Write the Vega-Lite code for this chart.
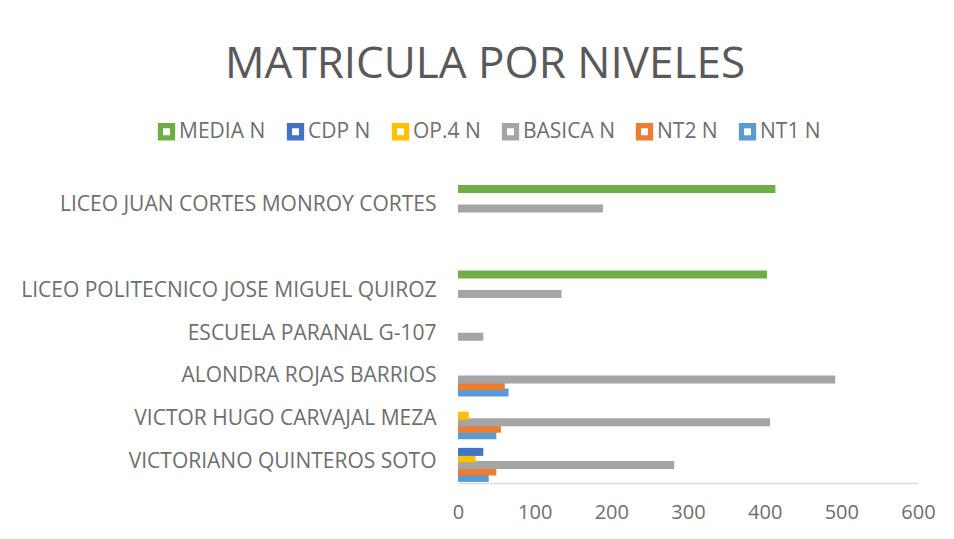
{
  "$schema": "https://vega.github.io/schema/vega-lite/v6.json",
  "autosize": "none",
  "width": 460,
  "height": 299,
  "padding": {"left": 458, "top": 184, "right": 36, "bottom": 56},
  "background": "white",
  "title": {
    "text": "MATRICULA POR NIVELES",
    "anchor": "middle",
    "frame": "group",
    "dx": -203,
    "offset": -1,
    "baseline": "alphabetic",
    "fontSize": 44,
    "font": "Open Sans",
    "fontWeight": "normal",
    "color": "#595959"
  },
  "data": {
    "values": [
      {"escuela": "VICTORIANO QUINTEROS SOTO", "nivel": "NT1 N", "n": 40},
      {"escuela": "VICTORIANO QUINTEROS SOTO", "nivel": "NT2 N", "n": 50},
      {"escuela": "VICTORIANO QUINTEROS SOTO", "nivel": "BASICA N", "n": 282},
      {"escuela": "VICTORIANO QUINTEROS SOTO", "nivel": "OP.4 N", "n": 23},
      {"escuela": "VICTORIANO QUINTEROS SOTO", "nivel": "CDP N", "n": 33},
      {"escuela": "VICTOR HUGO CARVAJAL MEZA", "nivel": "NT1 N", "n": 50},
      {"escuela": "VICTOR HUGO CARVAJAL MEZA", "nivel": "NT2 N", "n": 56},
      {"escuela": "VICTOR HUGO CARVAJAL MEZA", "nivel": "BASICA N", "n": 407},
      {"escuela": "VICTOR HUGO CARVAJAL MEZA", "nivel": "OP.4 N", "n": 14},
      {"escuela": "ALONDRA ROJAS BARRIOS", "nivel": "NT1 N", "n": 66},
      {"escuela": "ALONDRA ROJAS BARRIOS", "nivel": "NT2 N", "n": 61},
      {"escuela": "ALONDRA ROJAS BARRIOS", "nivel": "BASICA N", "n": 492},
      {"escuela": "ESCUELA PARANAL G-107", "nivel": "BASICA N", "n": 33},
      {"escuela": "LICEO POLITECNICO JOSE MIGUEL QUIROZ", "nivel": "BASICA N", "n": 135},
      {"escuela": "LICEO POLITECNICO JOSE MIGUEL QUIROZ", "nivel": "MEDIA N", "n": 403},
      {"escuela": "LICEO JUAN CORTES MONROY CORTES", "nivel": "BASICA N", "n": 189},
      {"escuela": "LICEO JUAN CORTES MONROY CORTES", "nivel": "MEDIA N", "n": 414}
    ]
  },
  "mark": {"type": "bar", "height": 8},
  "encoding": {
    "y": {
      "field": "escuela",
      "type": "nominal",
      "scale": {
        "domain": ["LICEO JUAN CORTES MONROY CORTES", " ", "LICEO POLITECNICO JOSE MIGUEL QUIROZ", "ESCUELA PARANAL G-107", "ALONDRA ROJAS BARRIOS", "VICTOR HUGO CARVAJAL MEZA", "VICTORIANO QUINTEROS SOTO"],
        "paddingInner": 0,
        "paddingOuter": 0
      },
      "axis": {
        "title": null,
        "domain": false,
        "ticks": false,
        "labelPadding": 22,
        "labelFontSize": 21,
        "labelFont": "Open Sans",
        "labelColor": "#6e6e6e",
        "labelLimit": 500
      }
    },
    "yOffset": {
      "field": "nivel",
      "type": "nominal",
      "scale": {
        "domain": ["MEDIA N", "CDP N", "OP.4 N", "BASICA N", "NT2 N", "NT1 N"],
        "paddingInner": 0,
        "paddingOuter": 0.28
      }
    },
    "x": {
      "field": "n",
      "type": "quantitative",
      "scale": {"domain": [0, 600], "nice": false},
      "axis": {
        "title": null,
        "values": [0, 100, 200, 300, 400, 500, 600],
        "grid": false,
        "ticks": false,
        "domainColor": "#D9D9D9",
        "domainWidth": 1.5,
        "labelPadding": 19,
        "labelFontSize": 20,
        "labelFont": "Open Sans",
        "labelColor": "#6e6e6e",
        "labelFlush": false
      }
    },
    "color": {
      "field": "nivel",
      "type": "nominal",
      "scale": {
        "domain": ["MEDIA N", "CDP N", "OP.4 N", "BASICA N", "NT2 N", "NT1 N"],
        "range": ["#70AD47", "#4472C4", "#FFC000", "#A5A5A5", "#ED7D31", "#5B9BD5"]
      },
      "legend": {
        "title": null,
        "orient": "none",
        "direction": "horizontal",
        "legendX": -302,
        "legendY": -63,
        "symbolType": "M-1,-1H1V1H-1Z M-0.4,-0.4V0.4H0.4V-0.4Z",
        "symbolSize": 300,
        "symbolStrokeWidth": 0,
        "symbolOpacity": 1,
        "labelFontSize": 21,
        "labelFont": "Open Sans",
        "labelColor": "#6e6e6e",
        "labelOffset": 2,
        "columnPadding": 19
      }
    }
  },
  "config": {"view": {"stroke": null}}
}
